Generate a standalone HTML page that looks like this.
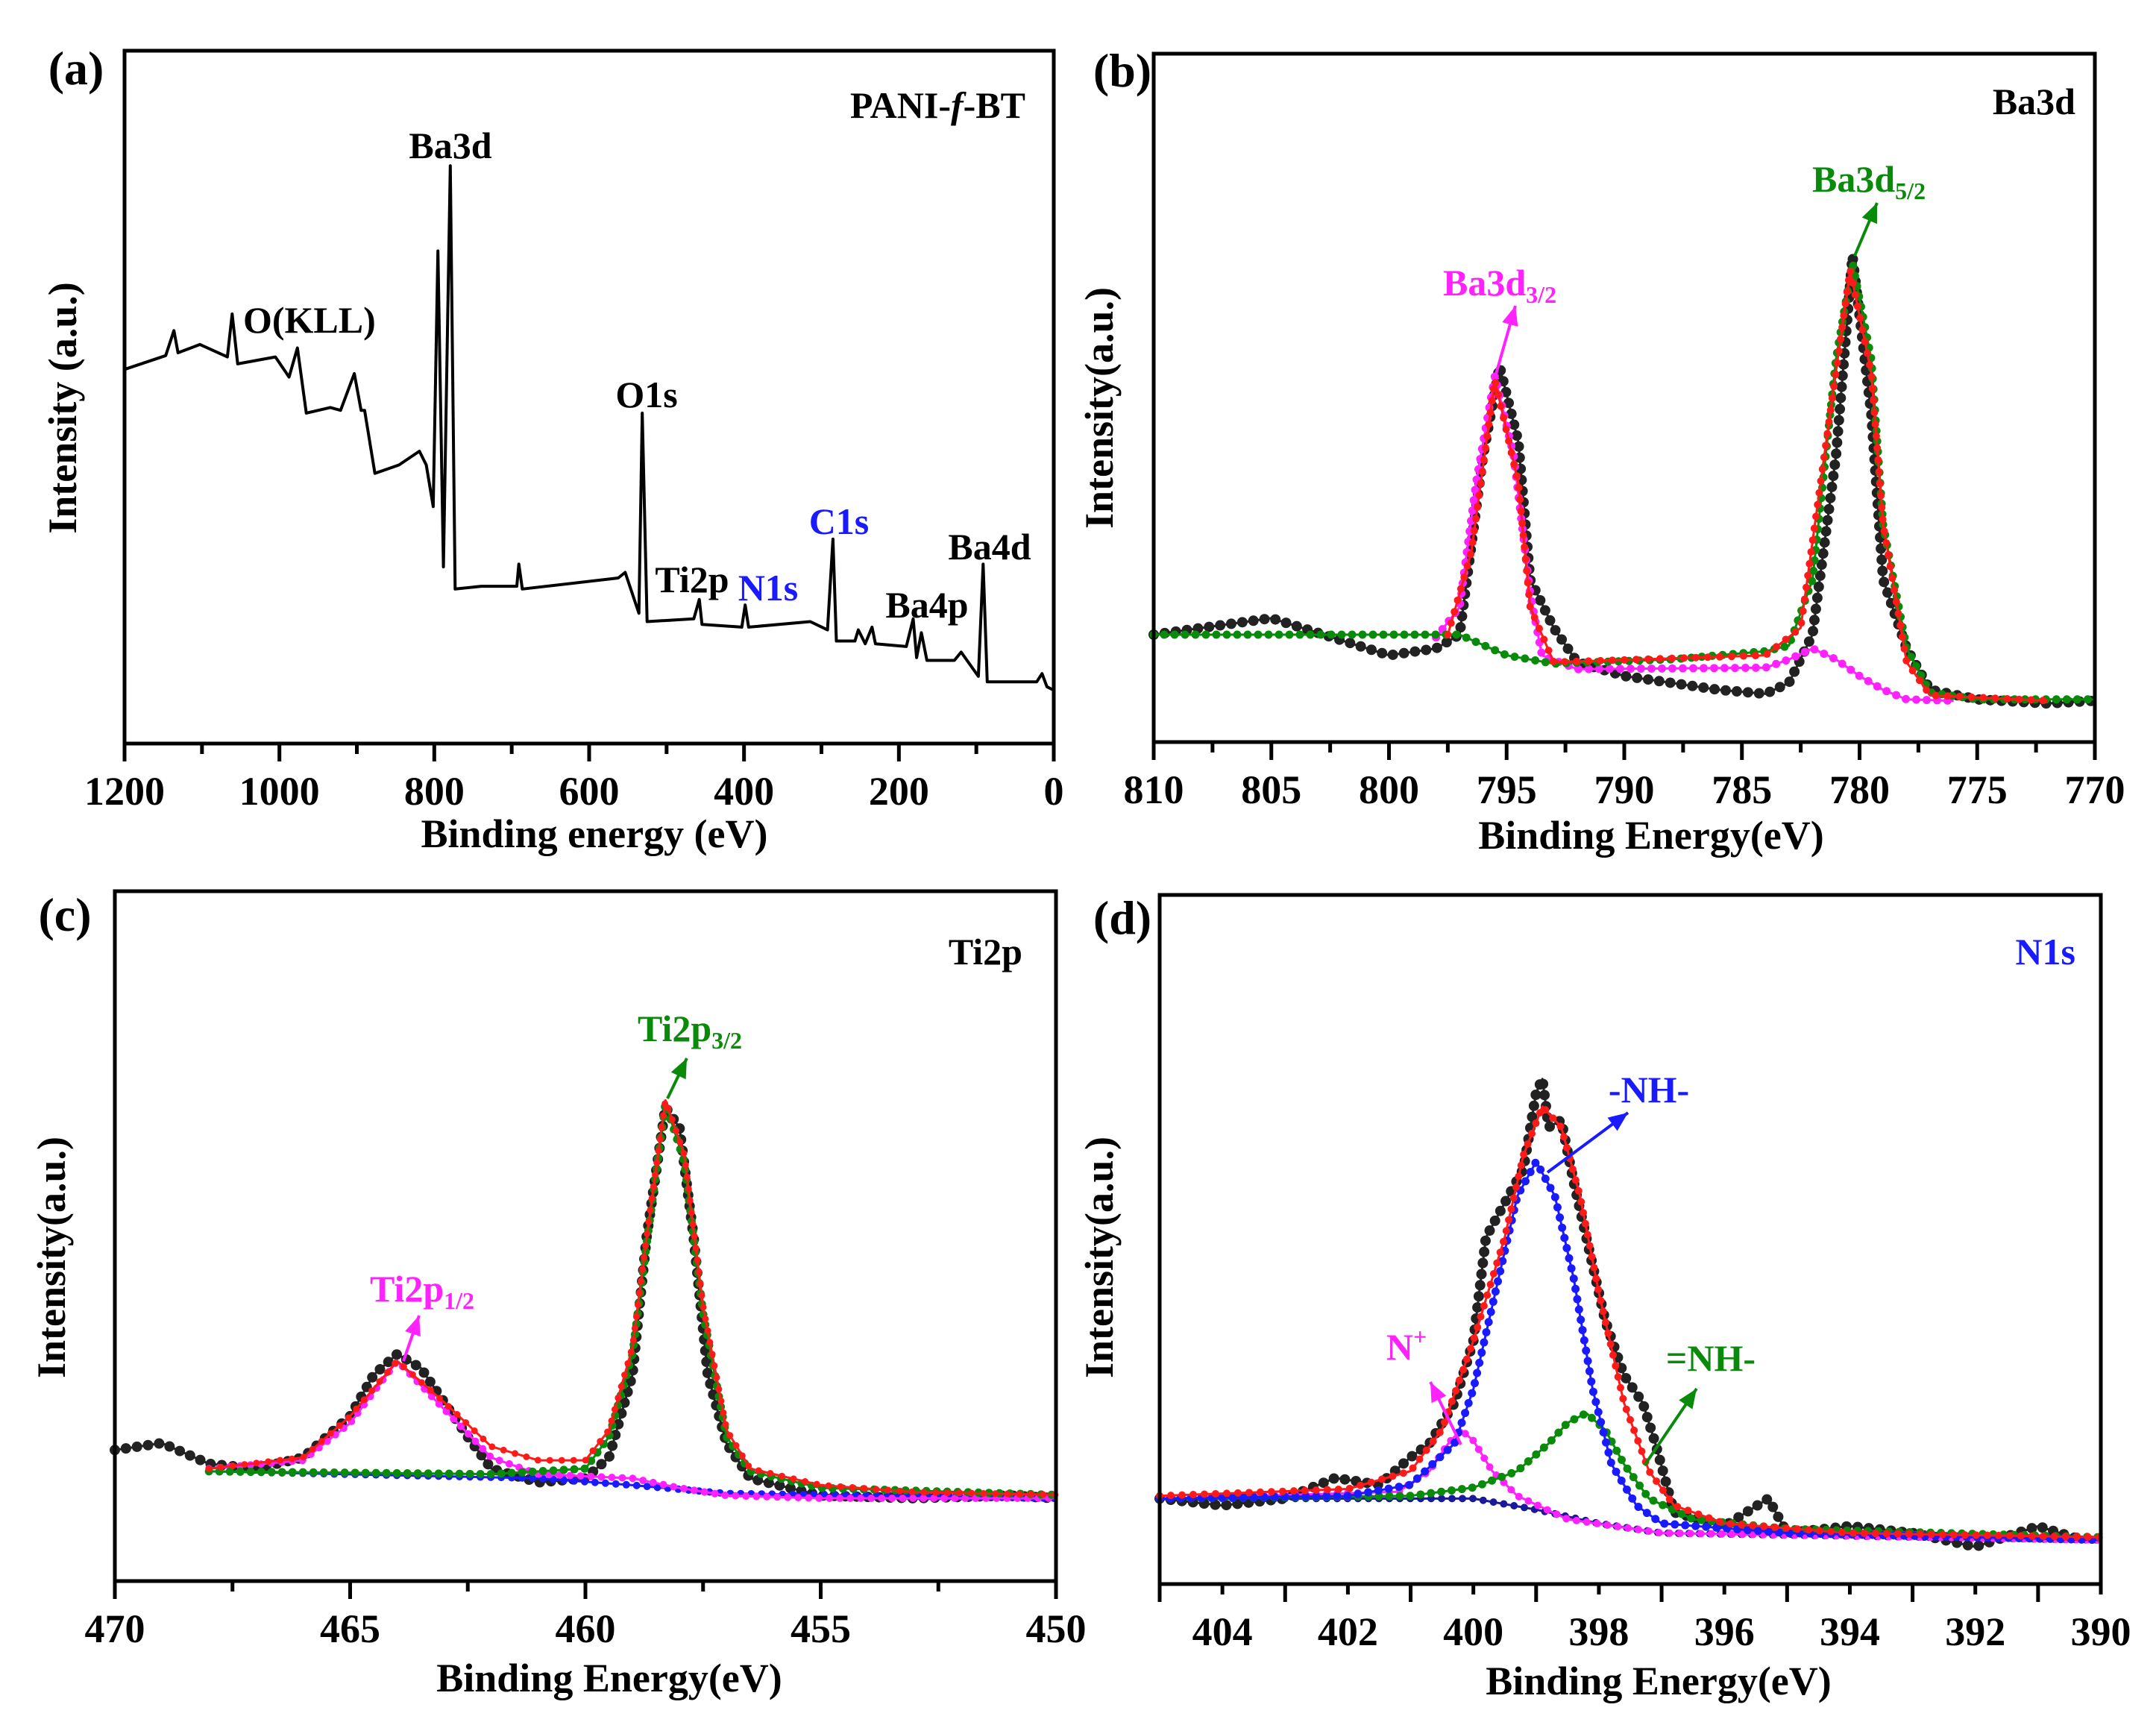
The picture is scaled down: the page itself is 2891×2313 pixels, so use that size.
<!DOCTYPE html>
<html><head><meta charset="utf-8"><style>
body{margin:0;background:#fff}
svg{display:block}
text{font-family:"Liberation Serif","Times New Roman",serif;font-weight:bold}
</style></head><body>
<svg id="fig" width="2891" height="2313" viewBox="0 0 2891 2313" xmlns="http://www.w3.org/2000/svg" font-family="Liberation Serif, serif">
</svg>
<script>
// ---- Panel (a) survey ----
const aE=[1200,1146.8,1136.2,1130.9,1102.6,1067.2,1061.0,1053.9,1005.2,987.5,976.8,965.3,934.3,921.0,903.3,894.5,890.0,876.7,845.7,819.2,810.3,801.4,795.3,788.2,779.3,773.1,739.5,693.4,690.8,686.3,562.4,553.5,535.8,531.4,525.2,464.9,457.8,454.3,402.9,398.5,394.1,314.4,292.2,285.2,280.7,256.8,252.4,243.5,234.7,230.3,190.4,181.5,177.1,170.9,163.8,128.4,119.6,97.4,91.2,85.9,22.1,15.1,8.9,0];
const aI=[54,56,59.6,56.4,57.6,55.8,62,54.8,55.8,52.9,57.1,47.7,48.5,48.1,53.4,48.1,48.1,39,40.2,42.2,40.2,34.2,71.1,25.5,83.4,22.3,22.7,22.7,25.9,22.3,23.9,24.7,18.8,47.7,17.6,18,20.8,17.2,16.8,20,16.8,17.6,16.4,29.5,14.8,14.8,16.4,14.4,16.8,14.4,14,18,12.4,16,12,12,13.2,9.7,25.9,8.9,8.9,10.1,8.2,7.7];
const aTicks=[1200,1000,800,600,400,200,0];
// ---- Panel (b) Ba3d ----
const bRawE=[810,805,800,798,797,796,795.3,794.5,794,793,792,790,786,784,783,782,781,780.3,779.5,779,778,777,775,772,770];
const bRawI=[15.6,18,12.6,13.6,15.6,41.6,54.6,43.6,23.6,16.6,11.6,9.6,7.6,7,8.6,15.6,41.6,70.6,47.6,23.6,13.6,7.6,6.2,5.6,6];
const bGreenE=[810,797,795,793,788,784,783,782,781,780.3,779.5,779,778,777,775,770];
const bGreenI=[15.6,15.6,12.6,11.4,12,13.2,14,23.6,55.6,69.6,55.6,31.6,13.6,7.2,6.2,6.2];
const bMagE=[798,797,796.3,795.5,794.7,794,793.5,792,784,783,782,781,780,779,778,776];
const bMagI=[15.2,19.6,37.6,53.2,41.6,21.6,12.6,10.6,10.8,12,13.6,12,9.6,7.6,6.2,6];
const bRedE=[797.5,796.5,795.5,794.5,794,793,784,782.5,781.5,780.4,779.5,779,778,777,772];
const bRedI=[15.6,27.6,52.6,37.6,19.6,11.6,12.6,16.6,41.6,68.6,53.6,31.6,11.6,6.8,6];
const bTicks=[810,805,800,795,790,785,780,775,770];
// ---- Panel (c) Ti2p ----
const cRawE=[470,469,468,467,466,465,464.5,464,463.5,463,462.5,462,461,460,459.5,459,458.7,458.3,458,457.7,457.4,457,456.5,455,453,451,450];
const cRawI=[19,20,17,16.3,17.9,23.9,29.9,32.9,30.9,25.9,20.9,16.3,14.3,14.9,17.9,29.9,49.8,68.7,65.7,49.8,29.9,19.9,14.9,12.4,12,12.4,12];
const cRedE=[468,466,465,464,463,462,461,460,459.5,459,458.7,458.3,457.9,457.5,457,456.5,455,453,450];
const cRedI=[16.3,17.9,23.9,31.9,25.9,19.5,17.5,17.5,21.9,33.9,49.8,69.7,61.8,39.8,21.9,16.3,13.9,12.9,12.5];
const cMagE=[468,466,465,464,463,462,461,459,458,457,455,450];
const cMagI=[16.3,17.5,22.9,31.9,24.9,17.9,15.5,14.9,13.5,12.4,12,12];
const cGreenE=[468,462,460,459.5,459,458.7,458.3,457.9,457.5,457,456.5,455,450];
const cGreenI=[15.9,15.5,16.3,20.9,32.9,48.8,69.3,60.8,38.8,20.9,15.9,13.5,12.5];
const cBlueE=[468,461,459,457,450];
const cBlueI=[15.9,14.9,13.9,12.7,12];
const cTicks=[470,465,460,455,450];
// ---- Panel (d) N1s ----
const dRawE=[405,404,403,402.2,401.5,401,400.7,400.3,400,399.8,399.5,399.2,399.0,398.9,398.8,398.6,398.4,398.1,397.9,397.6,397.3,397.1,396.8,396,395.3,395,394,393,392,391,390.3];
const dRawI=[12.4,11.4,12.4,15.4,14.4,18.4,20.4,26.3,35.3,50.3,55.3,60.3,71.3,73.3,66.3,67.3,58.3,46.3,38.3,30.3,26.3,20.4,10.4,8.4,12.4,7.4,8.4,7.4,5.4,8.4,6.4];
const dRedE=[405,402,401,400.5,400,399.5,399.2,398.9,398.6,398.3,398,397.6,397.2,396.8,396,394,390];
const dRedI=[12.8,13.8,16.4,22.4,35.3,50.3,62.3,69.3,66.3,56.3,42.3,26.3,16.4,11.4,8.8,7.4,6.8];
const dGreenE=[405,401,400,399.3,398.8,398.5,398.2,397.9,397.6,397.2,396.5,395,390];
const dGreenI=[12.4,12.8,14,16.4,20.4,23.4,24.8,22.4,17.4,12.4,9.4,8,6.8];
const dMagE=[405,401.2,400.7,400.4,400.2,400,399.7,399.3,398.5,397,390];
const dMagI=[12.4,13.4,16.4,20.4,22.4,20.8,16.4,12.8,9.4,7.4,6.4];
const dNavyE=[405,400,399,398,397,390];
const dNavyI=[12.4,12.4,10.8,8.8,7.4,6.4];
const dBlueE=[405,402,401,400.3,400,399.6,399.3,399.0,398.7,398.4,398.1,397.8,397.4,397,395,390];
const dBlueI=[12.4,12.8,14.4,20.4,28.3,44.3,56.3,61.3,56.3,44.3,28.3,17.4,11.4,8.8,7.4,6.4];
const dTicks=[404,402,400,398,396,394,392,390];

const NS="http://www.w3.org/2000/svg";
const svg=document.getElementById('fig');
function mk(tag,attrs,parent){const e=document.createElementNS(NS,tag);for(const k in attrs)e.setAttribute(k,attrs[k]);(parent||svg).appendChild(e);return e;}
function txt(parent,x,y,s,size,fill,anchor,name){const t=mk('text',{x:x,y:y,'font-size':size,fill:fill||'#000','text-anchor':anchor||'middle','font-family':'Liberation Serif, Times New Roman, serif','font-weight':'bold'},parent);t.innerHTML=s;


return t;}

function panel(p){
  const g=mk('g',{});
  
  
  const sx=e=>p.x0+(p.e0-e)/(p.e0-p.e1)*(p.x1-p.x0);
  const sy=v=>p.y1-v/100*(p.y1-p.y0);
  for(let e=p.e0;e>=p.e1-1e-9;e-=p.minor){
    const major=Math.abs((p.e0-e)/p.major-Math.round((p.e0-e)/p.major))<1e-6;
    const t=mk('line',{x1:sx(e),x2:sx(e),y1:p.y1,y2:p.y1+(major?24:14),stroke:'#000','stroke-width':5},g);
    
    
  }
  p.ticks.forEach(v=>{txt(g,sx(v),p.y1+82,String(v),54,'#000','middle','x-tick-label');});
  p.series.forEach(s=>{
    const d=s.E.map((e,i)=>(i?'L':'M')+sx(e).toFixed(1)+','+sy(s.I[i]).toFixed(1)).join('');
    const l=mk('path',{d:d,fill:'none',stroke:s.c,'stroke-width':s.w||3,'stroke-linejoin':'round'},g);
    
    
    if(s.dots){
      const m=mk('path',{d:d,fill:'none',stroke:s.c,'stroke-width':s.dots,'stroke-linecap':'round','stroke-dasharray':'0 '+(s.gap||14)},g);
      
      
    }
  });
  const box=mk('rect',{x:p.x0,y:p.y0,width:p.x1-p.x0,height:p.y1-p.y0,fill:'none',stroke:'#000','stroke-width':5},g);
  
  
  txt(g,p.panelLbl[0],p.panelLbl[1],p.panelLbl[2],64,'#000','middle','panel-label');
  txt(g,p.xt[0],p.xt[1],p.xt[2],54,'#000','middle','x-axis-title');
  const yt=txt(g,0,0,p.yt[2],54,'#000','middle','y-axis-title');
  yt.setAttribute('transform','translate('+p.yt[0]+','+p.yt[1]+') rotate(-90)');
  (p.notes||[]).forEach(n=>{txt(g,n[0],n[1],n[2],n[3]||50,n[4]||'#000',n[5]||'middle',n[6]||'peak-annotation');});
  (p.arrows||[]).forEach(a=>{
    const [x1,y1,x2,y2,c]=a;
    const ln=mk('line',{x1:x1,y1:y1,x2:x2,y2:y2,stroke:c,'stroke-width':4},g);
    
    
    const ang=Math.atan2(y2-y1,x2-x1),L=26,W=11;
    const bx=x2-L*Math.cos(ang),by=y2-L*Math.sin(ang);
    const hp=mk('polygon',{points:`${x2},${y2} ${bx+W*Math.sin(ang)},${by-W*Math.cos(ang)} ${bx-W*Math.sin(ang)},${by+W*Math.cos(ang)}`,fill:c},g);
    
    
  });
}
const G='#0a8a0a',M='#ff22ff',B='#1a1aff',R='#ff1a1a';
panel({name:'panel-a-survey',x0:167,x1:1413,y0:68,y1:997,e0:1200,e1:0,major:200,minor:100,ticks:aTicks,
 series:[{name:'survey-spectrum',E:aE,I:aI,c:'#000',w:4}],
 panelLbl:[102,113,'(a)'],xt:[797,1136,'Binding energy (eV)'],yt:[102,547,'Intensity (a.u.)'],
 notes:[[1375,158,'PANI-<tspan font-style="italic">f</tspan>-BT',50,'#000','end','sample-name'],[604,212,'Ba3d'],[326,446,'O(KLL)',50,'#000','start'],[867,546,'O1s'],[928,794,'Ti2p'],[1030,805,'N1s',50,B],[1125,716,'C1s',50,B],[1327,750,'Ba4d'],[1243,828,'Ba4p']]});
panel({name:'panel-b-ba3d',x0:1547,x1:2809,y0:72,y1:995,e0:810,e1:770,major:5,minor:2.5,ticks:bTicks,
 series:[{name:'raw-data',E:bRawE,I:bRawI,c:'#222',w:3,dots:14,gap:15},{name:'ba3d32-fit',E:bMagE,I:bMagI,c:M,w:3,dots:11},{name:'ba3d52-fit',E:bGreenE,I:bGreenI,c:G,w:3,dots:11},{name:'envelope-fit',E:bRedE,I:bRedI,c:R,w:3,dots:10,gap:16}],
 panelLbl:[1505,116,'(b)'],xt:[2214,1138,'Binding Energy(eV)'],yt:[1492,547,'Intensity(a.u.)'],
 notes:[[2783,153,'Ba3d',50,'#000','end','element-label'],[2430,257,'Ba3d<tspan font-size="32" dy="10">5/2</tspan>',50,G,'start'],[1935,396,'Ba3d<tspan font-size="32" dy="10">3/2</tspan>',50,M,'start']],
 arrows:[[2487,343,2517,272,G],[2005,505,2032,410,M]]});
panel({name:'panel-c-ti2p',x0:154,x1:1416,y0:1195,y1:2120,e0:470,e1:450,major:5,minor:2.5,ticks:cTicks,
 series:[{name:'raw-data',E:cRawE,I:cRawI,c:'#222',w:3,dots:14,gap:15},{name:'background',E:cBlueE,I:cBlueI,c:B,w:3,dots:10},{name:'ti2p12-fit',E:cMagE,I:cMagI,c:M,w:3,dots:10},{name:'ti2p32-fit',E:cGreenE,I:cGreenI,c:G,w:3,dots:11},{name:'envelope-fit',E:cRedE,I:cRedI,c:R,w:3,dots:9,gap:16}],
 panelLbl:[87,1248,'(c)'],xt:[817,2268,'Binding Energy(eV)'],yt:[87,1686,'Intensity(a.u.)'],
 notes:[[1371,1293,'Ti2p',50,'#000','end','element-label'],[855,1396,'Ti2p<tspan font-size="32" dy="10">3/2</tspan>',50,G,'start'],[496,1745,'Ti2p<tspan font-size="32" dy="10">1/2</tspan>',50,M,'start']],
 arrows:[[895,1473,921,1419,G],[541,1825,562,1764,M]]});
panel({name:'panel-d-n1s',x0:1555,x1:2817,y0:1200,y1:2124,e0:405,e1:390,major:2,minor:1,ticks:dTicks,
 series:[{name:'raw-data',E:dRawE,I:dRawI,c:'#222',w:3,dots:14,gap:15},{name:'background',E:dNavyE,I:dNavyI,c:'#1a1a99',w:3,dots:10},{name:'n-plus-fit',E:dMagE,I:dMagI,c:M,w:3,dots:10},{name:'imine-fit',E:dGreenE,I:dGreenI,c:G,w:3,dots:11},{name:'amine-fit',E:dBlueE,I:dBlueI,c:B,w:3,dots:11},{name:'envelope-fit',E:dRedE,I:dRedI,c:R,w:3,dots:10,gap:15}],
 panelLbl:[1505,1252,'(d)'],xt:[2224,2272,'Binding Energy(eV)'],yt:[1492,1686,'Intensity(a.u.)'],
 notes:[[2783,1293,'N1s',50,B,'end','element-label'],[2211,1478,'-NH-',50,B],[1886,1823,'N<tspan font-size="32" dy="-20">+</tspan>',50,M],[2294,1838,'=NH-',50,G]],
 arrows:[[2075,1572,2183,1492,B],[1959,1937,1918,1853,M],[2205,1965,2275,1862,G]]});
</script>
</body></html>
